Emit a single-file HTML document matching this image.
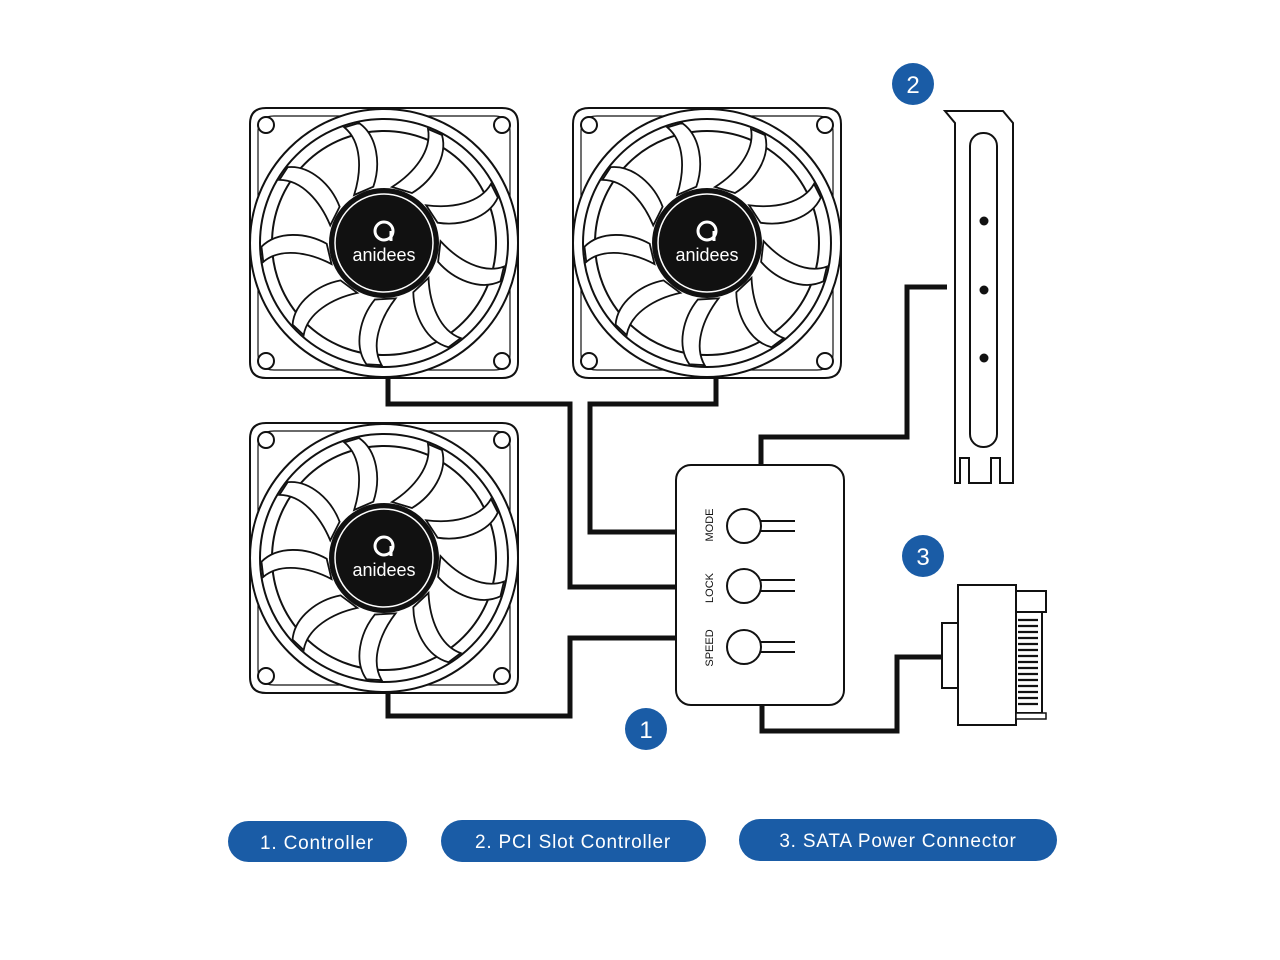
<!DOCTYPE html>
<html><head><meta charset="utf-8"><style>
body{margin:0;background:#fff;width:1280px;height:960px;overflow:hidden}
svg{display:block}
</style></head><body>
<svg width="1280" height="960" viewBox="0 0 1280 960" xmlns="http://www.w3.org/2000/svg" font-family="Liberation Sans, sans-serif">
<defs>
<path id="blade" d="M8,-56 C30,-70 48,-92 44,-114 L58,-108 C64,-86 48,-62 28,-50 Z" fill="#fff" stroke="#111" stroke-width="1.8"/>
<g id="fan">
  <path d="M-118,-135 H118 Q134,-135 134,-119 V119 Q134,135 118,135 H-118 Q-134,135 -134,119 V-119 Q-134,-135 -118,-135 Z" fill="#fff" stroke="#111" stroke-width="2"/>
  <path d="M-110,-127 H110 Q126,-127 126,-111 V111 Q126,127 110,127 H-110 Q-126,127 -126,111 V-111 Q-126,-127 -110,-127 Z" fill="none" stroke="#111" stroke-width="1.2"/>
  <circle cx="-118" cy="-118" r="8" fill="#fff" stroke="#111" stroke-width="2"/>
  <circle cx="118" cy="-118" r="8" fill="#fff" stroke="#111" stroke-width="2"/>
  <circle cx="-118" cy="118" r="8" fill="#fff" stroke="#111" stroke-width="2"/>
  <circle cx="118" cy="118" r="8" fill="#fff" stroke="#111" stroke-width="2"/>
  <circle r="134" fill="#fff" stroke="#111" stroke-width="2"/>
  <circle r="124" fill="none" stroke="#111" stroke-width="2"/>
  <circle r="112" fill="#fff" stroke="#111" stroke-width="2"/>
  <use href="#blade"/>
  <use href="#blade" transform="rotate(40)"/>
  <use href="#blade" transform="rotate(80)"/>
  <use href="#blade" transform="rotate(120)"/>
  <use href="#blade" transform="rotate(160)"/>
  <use href="#blade" transform="rotate(200)"/>
  <use href="#blade" transform="rotate(240)"/>
  <use href="#blade" transform="rotate(280)"/>
  <use href="#blade" transform="rotate(320)"/>
  <circle r="54" fill="#111" stroke="#111" stroke-width="2"/>
  <circle r="49" fill="none" stroke="#fff" stroke-width="1.5"/>
  <circle cx="0" cy="-12" r="9" fill="none" stroke="#fff" stroke-width="3"/>
  <line x1="7" y1="-12" x2="7" y2="-2" stroke="#fff" stroke-width="3"/>
  <text x="0" y="18" font-size="18" fill="#fff" text-anchor="middle">anidees</text>
</g>
</defs>

<g fill="none" stroke="#111" stroke-width="5">
  <polyline points="388,378 388,404 570,404 570,587 676,587"/>
  <polyline points="716,378 716,404 590,404 590,532 676,532"/>
  <polyline points="388,693 388,716 570,716 570,638 676,638"/>
  <polyline points="761,465 761,437 907,437 907,287 947,287"/>
  <polyline points="762,705 762,731 897,731 897,657 942,657"/>
</g>

<use href="#fan" transform="translate(384,243)"/>
<use href="#fan" transform="translate(707,243)"/>
<use href="#fan" transform="translate(384,558)"/>

<rect x="676" y="465" width="168" height="240" rx="15" fill="#fff" stroke="#111" stroke-width="2"/>
<g fill="#fff" stroke="#111" stroke-width="2">
  <circle cx="744" cy="526" r="17"/><circle cx="744" cy="586" r="17"/><circle cx="744" cy="647" r="17"/>
</g>
<g stroke="#111" stroke-width="2">
  <line x1="761" y1="521" x2="795" y2="521"/><line x1="761" y1="531" x2="795" y2="531"/>
  <line x1="761" y1="580" x2="795" y2="580"/><line x1="761" y1="591" x2="795" y2="591"/>
  <line x1="761" y1="642" x2="795" y2="642"/><line x1="761" y1="652" x2="795" y2="652"/>
</g>
<g font-size="11" fill="#111" text-anchor="middle">
  <text transform="translate(713,525) rotate(-90)">MODE</text>
  <text transform="translate(713,588) rotate(-90)">LOCK</text>
  <text transform="translate(713,648) rotate(-90)">SPEED</text>
</g>

<path d="M945,111 H1003 L1013,123 V483 H1000 V458 H991 V483 H969 V458 H960 V483 H955 V123 Z" fill="#fff" stroke="#111" stroke-width="2"/>
<rect x="970" y="133" width="27" height="314" rx="13" fill="none" stroke="#111" stroke-width="2"/>
<circle cx="984" cy="221" r="4.5" fill="#111"/>
<circle cx="984" cy="290" r="4.5" fill="#111"/>
<circle cx="984" cy="358" r="4.5" fill="#111"/>

<rect x="942" y="623" width="16" height="65" fill="#fff" stroke="#111" stroke-width="2"/>
<rect x="958" y="585" width="58" height="140" fill="#fff" stroke="#111" stroke-width="2"/>
<rect x="1016" y="591" width="30" height="21" fill="#fff" stroke="#111" stroke-width="2"/>
<rect x="1016" y="612" width="26" height="101" fill="#fff" stroke="#111" stroke-width="2"/>
<rect x="1016" y="713" width="30" height="6" fill="#fff" stroke="#111" stroke-width="1.5"/>
<g stroke="#111" stroke-width="2.2">
  <line x1="1018" y1="620" x2="1038" y2="620"/><line x1="1018" y1="626" x2="1038" y2="626"/>
  <line x1="1018" y1="632" x2="1038" y2="632"/><line x1="1018" y1="638" x2="1038" y2="638"/>
  <line x1="1018" y1="644" x2="1038" y2="644"/><line x1="1018" y1="650" x2="1038" y2="650"/>
  <line x1="1018" y1="656" x2="1038" y2="656"/><line x1="1018" y1="662" x2="1038" y2="662"/>
  <line x1="1018" y1="668" x2="1038" y2="668"/><line x1="1018" y1="674" x2="1038" y2="674"/>
  <line x1="1018" y1="680" x2="1038" y2="680"/><line x1="1018" y1="686" x2="1038" y2="686"/>
  <line x1="1018" y1="692" x2="1038" y2="692"/><line x1="1018" y1="698" x2="1038" y2="698"/>
  <line x1="1018" y1="704" x2="1038" y2="704"/>
</g>

<g fill="#1a5ca6">
  <circle cx="913" cy="84" r="21"/><circle cx="923" cy="556" r="21"/><circle cx="646" cy="729" r="21"/>
</g>
<g fill="#fff" font-size="24" text-anchor="middle">
  <text x="913" y="93">2</text><text x="923" y="565">3</text><text x="646" y="738">1</text>
</g>

<g fill="#1a5ca6">
  <rect x="228" y="821" width="179" height="41" rx="20.5"/>
  <rect x="441" y="820" width="265" height="42" rx="21"/>
  <rect x="739" y="819" width="318" height="42" rx="21"/>
</g>
<g fill="#fff" font-size="19" text-anchor="middle" letter-spacing="0.8">
  <text x="317" y="849">1. Controller</text>
  <text x="573" y="848">2. PCI Slot Controller</text>
  <text x="898" y="847">3. SATA Power Connector</text>
</g>
</svg>
</body></html>
